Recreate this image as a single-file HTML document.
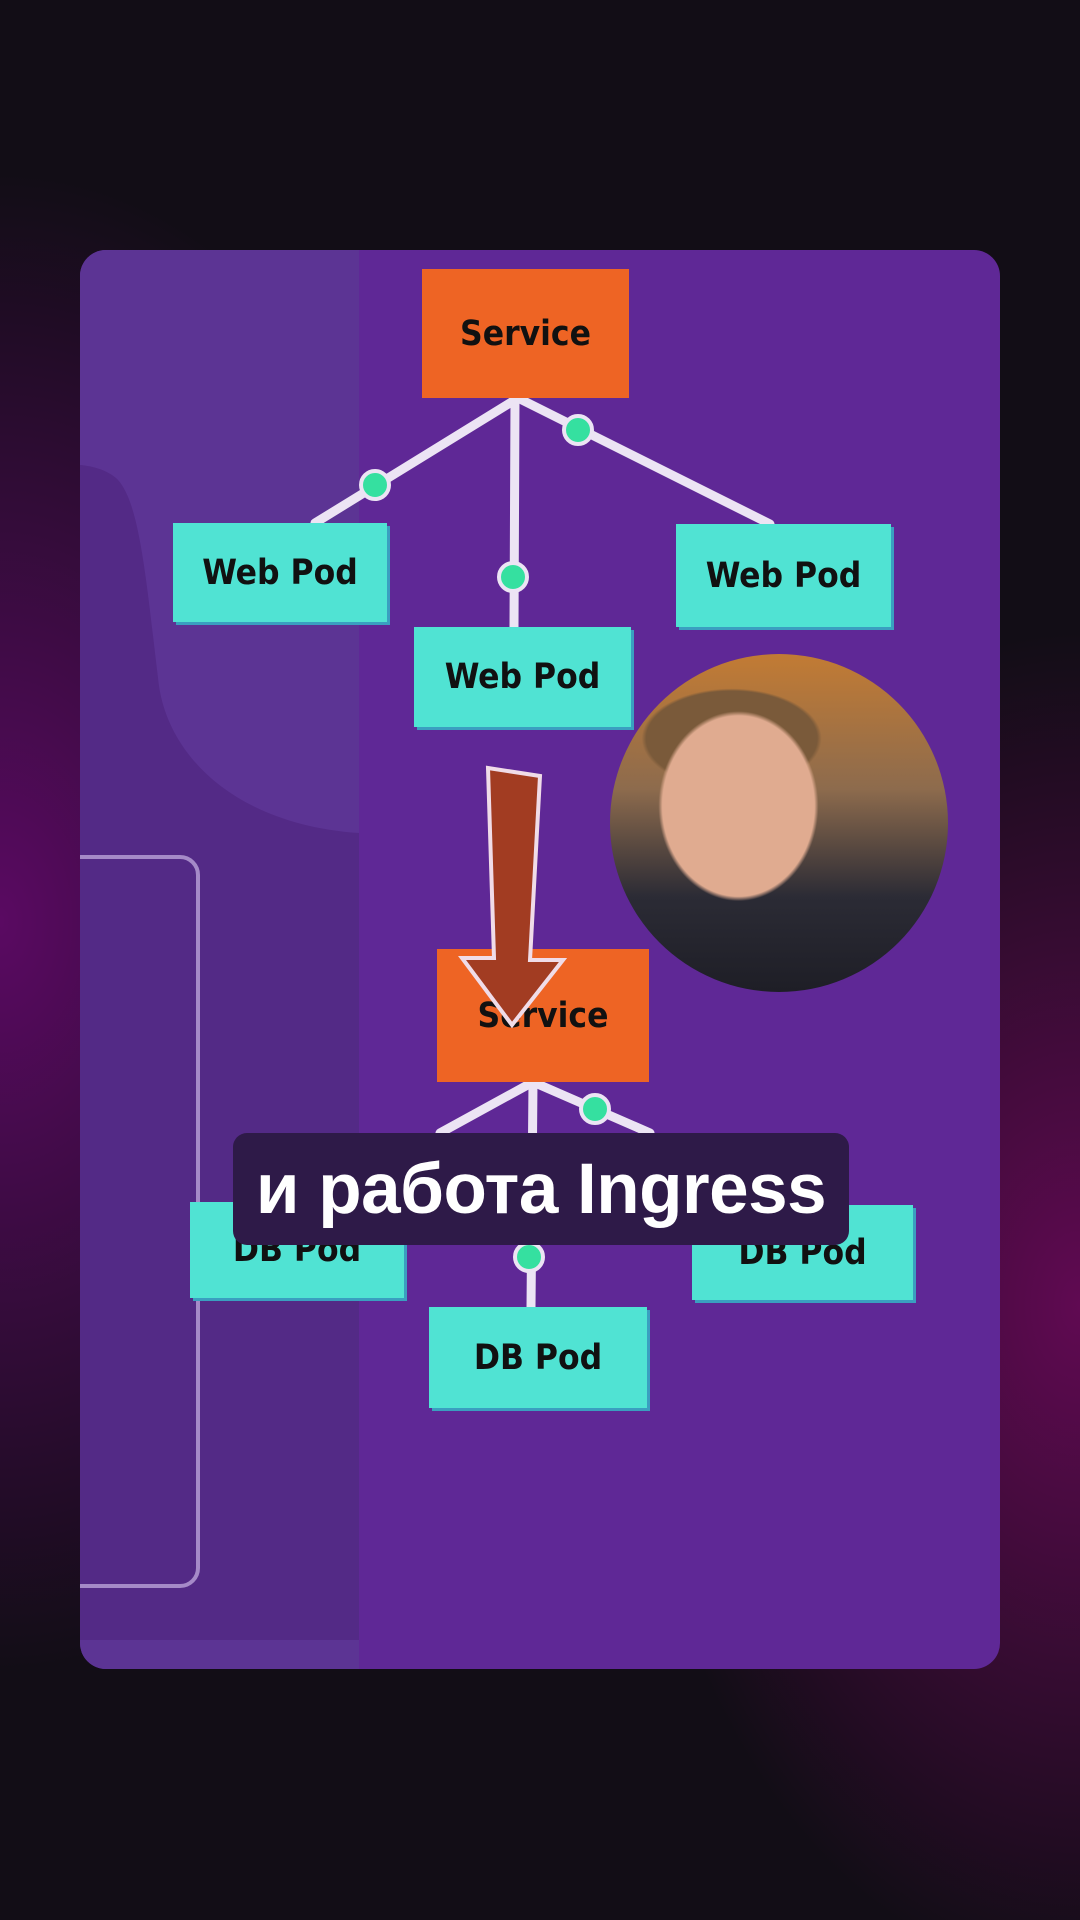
<!DOCTYPE html>
<html><head><meta charset="utf-8"><style>
html,body{margin:0;padding:0;width:1080px;height:1920px;overflow:hidden}
body{background:radial-gradient(ellipse 650px 1000px at 0% 48%,#5a0a62 0%,rgba(40,8,45,0) 75%),radial-gradient(ellipse 600px 900px at 100% 68%,#600a52 0%,rgba(40,8,45,0) 75%),#120d16;position:relative;font-family:"Comic Sans MS","DejaVu Sans",sans-serif}
.card{position:absolute;left:80px;top:250px;width:920px;height:1419px;border-radius:26px;background:#5f2896;overflow:hidden}
.lp{position:absolute;left:0;top:0;width:279px;height:100%;background:#532a86}
.orect{position:absolute;left:-30px;top:605px;width:142px;height:725px;border:4px solid #a58ac8;border-radius:20px}
.box{position:absolute;font-weight:bold;color:#111;display:flex;align-items:center;justify-content:center;font-size:35px;font-family:"DejaVu Sans Condensed","DejaVu Sans",sans-serif}
.cy{background:#50e3d3;box-shadow:3px 3px 0 #3a9fc0}
.or{background:#ee6424}
.cap{position:absolute;left:233px;top:1133px;width:616px;height:112px;background:#2e1a48;border-radius:14px;color:#fff;font-family:"Liberation Sans",sans-serif;font-weight:bold;font-size:71px;display:flex;align-items:center;justify-content:center;letter-spacing:-0.5px}
.face{position:absolute;left:610px;top:654px;width:338px;height:338px;border-radius:50%;background:radial-gradient(ellipse 80px 95px at 38% 45%,#e0ab90 0 95%,transparent 100%),radial-gradient(ellipse 90px 50px at 36% 25%,#7a5a3a 0 95%,transparent 100%),linear-gradient(#c27b34 0%,#8d6b4d 40%,#2b2b35 72%,#1e1e26 100%);overflow:hidden}
</style></head><body>
<div class="card">
<div class="lp"></div>
<svg width="279" height="1419" style="position:absolute;left:0;top:0"><path d="M0,0 H279 V583 C160,575 90,510 79,436 C66,330 60,250 36,228 C22,216 0,215 0,215 Z" fill="#5c3494"/><rect x="0" y="1390" width="279" height="29" fill="#5c3494"/></svg>
<div class="orect"></div>
</div>
<svg width="1080" height="1920" style="position:absolute;left:0;top:0">
<g stroke="#ece4f4" stroke-width="9" stroke-linecap="round" fill="none">
<line x1="518" y1="398" x2="315" y2="523"/><line x1="515" y1="398" x2="514" y2="627"/><line x1="518" y1="398" x2="770" y2="524"/>
<line x1="533" y1="1082" x2="440" y2="1133"/><line x1="533" y1="1082" x2="531" y2="1307"/><line x1="533" y1="1082" x2="650" y2="1133"/>
</g>
<g fill="#35e0a0" stroke="#ece4f4" stroke-width="4">
<circle cx="375" cy="485" r="14"/><circle cx="513" cy="577" r="14"/><circle cx="578" cy="430" r="14"/>
<circle cx="595" cy="1109" r="14"/><circle cx="529" cy="1257" r="14"/>
</g>
</svg>
<div class="box or" style="left:422px;top:269px;width:207px;height:129px">Service</div>
<div class="box cy" style="left:173px;top:523px;width:214px;height:99px">Web Pod</div>
<div class="box cy" style="left:414px;top:627px;width:217px;height:100px">Web Pod</div>
<div class="box cy" style="left:676px;top:524px;width:215px;height:103px">Web Pod</div>
<div class="box or" style="left:437px;top:949px;width:212px;height:133px">Service</div>
<div class="box cy" style="left:190px;top:1202px;width:214px;height:96px">DB Pod</div>
<div class="box cy" style="left:429px;top:1307px;width:218px;height:101px">DB Pod</div>
<div class="box cy" style="left:692px;top:1205px;width:221px;height:95px">DB Pod</div>
<svg width="1080" height="1920" style="position:absolute;left:0;top:0">
<polygon points="488,768 540,776 530,960 563,960 512,1025 462,958 494,958" fill="#a23c22" stroke="#f0dce8" stroke-width="4"/>
</svg>
<div class="face"></div>
<div class="cap">и работа Ingress</div>
</body></html>
